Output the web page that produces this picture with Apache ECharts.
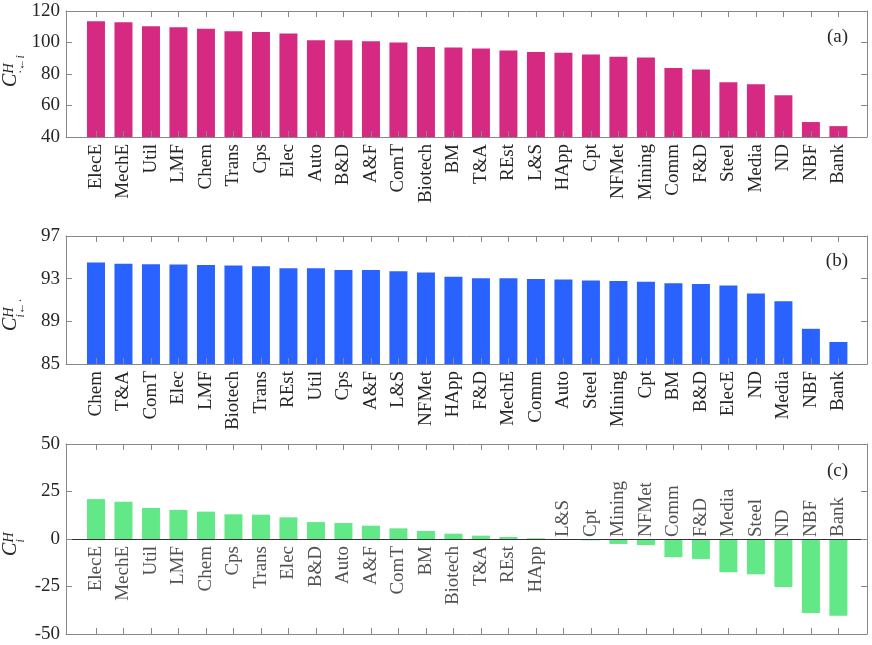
<!DOCTYPE html>
<html>
<head>
<meta charset="utf-8">
<script src="https://cdn.jsdelivr.net/npm/echarts@6/dist/echarts.min.js"></script>
<style>html,body{margin:0;padding:0;background:#fff}#c{width:872px;height:645px}</style>
</head>
<body>
<div id="c"></div>
<script>
const categoriesA = ['ElecE','MechE','Util','LMF','Chem','Trans','Cps','Elec','Auto','B&D','A&F','ComT','Biotech','BM','T&A','REst','L&S','HApp','Cpt','NFMet','Mining','Comm','F&D','Steel','Media','ND','NBF','Bank'];
const valuesA = [113.5,112.8,110.3,109.7,108.8,107.2,106.7,105.7,101.5,101.5,100.8,100.0,97.1,96.8,96.2,94.9,93.9,93.5,92.4,90.9,90.5,83.8,82.9,74.7,73.5,66.5,49.5,46.9];

const categoriesB = ['Chem','T&A','ComT','Elec','LMF','Biotech','Trans','REst','Util','Cps','A&F','L&S','NFMet','HApp','F&D','MechE','Comm','Auto','Steel','Mining','Cpt','BM','B&D','ElecE','ND','Media','NBF','Bank'];
const valuesB = [94.51,94.41,94.35,94.32,94.29,94.23,94.16,93.98,93.98,93.82,93.82,93.70,93.57,93.17,93.04,93.04,92.98,92.92,92.82,92.79,92.70,92.57,92.51,92.36,91.61,90.89,88.30,87.06];

const categoriesC = ['ElecE','MechE','Util','LMF','Chem','Cps','Trans','Elec','B&D','Auto','A&F','ComT','BM','Biotech','T&A','REst','HApp','L&S','Cpt','Mining','NFMet','Comm','F&D','Media','Steel','ND','NBF','Bank'];
const valuesC = [21.0,19.6,16.3,15.3,14.4,13.0,12.8,11.4,8.9,8.4,7.0,5.6,4.2,2.8,1.75,1.05,0.35,-0.1,-0.7,-2.6,-3.2,-9.6,-10.5,-17.5,-18.6,-25.3,-38.9,-40.4];

const yTicksA = [40,60,80,100,120];
const yTicksB = [85,89,93,97];
const yTicksC = [-50,-25,0,25,50];

const FONT = '"Liberation Serif","DejaVu Serif",serif';
const AX = '#888888';
const TXT = '#262626';

const positions = categoriesA.map((c, i) => i + 1);

const grids = [
  {left: 66, top: 11, width: 801, height: 126},
  {left: 66, top: 236, width: 801, height: 128},
  {left: 66, top: 444, width: 801, height: 190}
];

function xAxesFor(g, cats, showLabels) {
  const common = {
    type: 'value', gridIndex: g, min: -0.09, max: 29.04, z: 5,
    splitLine: {show: false},
    axisLine: {show: true, onZero: false, lineStyle: {color: AX, width: 1}},
    axisTick: {show: true, inside: true, length: 6, customValues: positions, lineStyle: {color: AX}}
  };
  return [
    Object.assign({}, common, {
      position: 'bottom',
      axisLabel: {show: showLabels, customValues: positions, rotate: 90, margin: 7,
        fontSize: 19, fontFamily: FONT, color: TXT,
        formatter: v => cats[Math.round(v) - 1] || ''}
    }),
    Object.assign({}, common, {position: 'top', axisLabel: {show: false}})
  ];
}

function yAxesFor(g, ticks) {
  const common = {
    type: 'value', gridIndex: g, min: ticks[0], max: ticks[ticks.length - 1], z: 5,
    splitLine: {show: false},
    axisLine: {show: true, onZero: false, lineStyle: {color: AX, width: 1}},
    axisTick: {show: true, inside: true, length: 6, customValues: ticks, lineStyle: {color: AX}}
  };
  return [
    Object.assign({}, common, {
      position: 'left',
      axisLabel: {show: true, customValues: ticks, margin: 6, fontSize: 19, fontFamily: FONT, color: TXT}
    }),
    Object.assign({}, common, {position: 'right', axisLabel: {show: false}})
  ];
}

const xAxis = [].concat(xAxesFor(0, categoriesA, true), xAxesFor(1, categoriesB, true), xAxesFor(2, categoriesC, false));
const yAxis = [].concat(yAxesFor(0, yTicksA), yAxesFor(1, yTicksB), yAxesFor(2, yTicksC));

function barSeries(g, cats, vals, color, extra) {
  return Object.assign({
    type: 'bar', xAxisIndex: g * 2, yAxisIndex: g * 2,
    data: cats.map((c, i) => [i + 1, vals[i]]),
    barWidth: 18, itemStyle: {color: color}, z: 2, silent: true
  }, extra || {});
}

const series = [
  barSeries(0, categoriesA, valuesA, '#D62A82'),
  barSeries(1, categoriesB, valuesB, '#2962FF'),
  barSeries(2, categoriesC, valuesC, '#62E887', {
    markLine: {silent: true, symbol: 'none', label: {show: false},
      lineStyle: {color: '#333333', width: 1, type: 'solid'}, data: [{yAxis: 0}]}
  }),
  {
    type: 'scatter', xAxisIndex: 4, yAxisIndex: 4, symbolSize: 0, z: 6, silent: true,
    data: categoriesC.map((c, i) => ({
      value: [i + 1, 0], name: c,
      label: valuesC[i] > 0
        ? {position: 'bottom', align: 'right', verticalAlign: 'middle', distance: 7}
        : {position: 'top', align: 'left', verticalAlign: 'middle', distance: 2}
    })),
    label: {show: true, rotate: 90, formatter: '{b}', fontSize: 19, fontFamily: FONT, color: TXT}
  }
];

function yLabel(gx, gy, sub) {
  return {
    type: 'group', x: gx, y: gy, rotation: Math.PI / 2, silent: true,
    children: [
      {type: 'text', style: {text: 'C', x: 0, y: -6, font: 'italic 20px ' + FONT, fill: TXT, textAlign: 'left', textVerticalAlign: 'middle'}},
      {type: 'text', style: {text: 'H', x: 13.5, y: -8, font: 'italic 14px ' + FONT, fill: TXT, textAlign: 'left', textVerticalAlign: 'middle'}},
      {type: 'text', style: {text: sub, x: 13.5, y: 4, font: 'italic 12px ' + FONT, fill: TXT, textAlign: 'left', textVerticalAlign: 'middle'}}
    ]
  };
}

function tag(t, y) {
  return {type: 'text', silent: true, style: {text: t, x: 848, y: y, font: '19px ' + FONT, fill: TXT, textAlign: 'right', textVerticalAlign: 'middle'}};
}

const chart = echarts.init(document.getElementById('c'), null, {renderer: 'canvas'});
chart.setOption({
  animation: false,
  backgroundColor: '#ffffff',
  grid: grids,
  xAxis: xAxis,
  yAxis: yAxis,
  series: series,
  graphic: [
    tag('(a)', 37), tag('(b)', 261), tag('(c)', 471),
    yLabel(17, 87, '\u00b7\u2190i'),
    yLabel(17, 331, 'i\u2190\u00b7'),
    yLabel(17, 556, 'i')
  ]
});
</script>
</body>
</html>
